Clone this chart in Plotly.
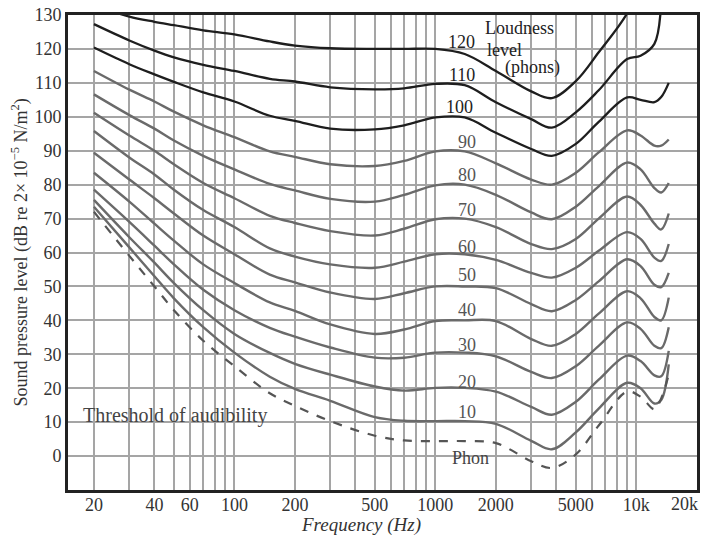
import math
import plotly.graph_objects as go

# ---------------- data ----------------
FREQ = [20, 30, 40, 50, 70, 100, 150, 200, 300, 500, 700, 1000, 1400, 2000,
        3000, 3800, 5000, 6500, 9000, 10500, 12300, 13300, 14500]

PHON_120 = [133, 129.5, 128, 127, 125.5, 124.3, 122.2, 121, 120.2, 120, 120, 120, 118.5, 113.5,
            107.5, 105.5, 110.5, 119, 130.5, 140, None, None, None]
PHON_110 = [127.3, 122.5, 119.5, 117.5, 115.3, 113.5, 111.2, 110.4, 108.7, 108.1, 108.4, 109.7, 109.3, 104.3,
            99.3, 96.8, 101.3, 107.8, 117, 118, 121.5, 134, None]
PHON_100 = [120.4, 115.5, 112.5, 110.3, 107.2, 104.5, 100.3, 98.8, 96.5, 96.3, 97.5, 99.8, 99.8, 95.3,
            90.5, 88.5, 92, 98.5, 105.7, 105, 104.3, 105.8, 110]
PHON_90 = [113.5, 108, 104.5, 101.5, 97.5, 94, 89.8, 88.2, 86, 85.5, 87, 89.8, 89.8, 86.3,
           81.5, 80, 83.5, 89.5, 96, 94.5, 91.5, 91.5, 93.3]
PHON_80 = [106.6, 100.5, 96.5, 93, 88.5, 84.5, 80.2, 78.3, 75.8, 75, 77, 79.8, 80, 77,
           71.8, 69.8, 73.5, 79.5, 86.5, 84.5, 79, 77.7, 80.5]
PHON_70 = [101.2, 94.5, 90, 86, 80.5, 76, 70.8, 68.7, 66.3, 65, 67, 69.8, 70, 67.5,
           62.5, 61, 64, 70, 76.5, 74, 68.5, 66.8, 71.5]
PHON_60 = [95.8, 88, 83, 78.5, 72.5, 67.5, 61.2, 58.8, 56.5, 55.5, 57.3, 59.5, 59.5, 57.8,
           54, 52.6, 55.5, 60.5, 66, 64, 58.5, 57.5, 62.5]
PHON_50 = [89.4, 81.5, 76, 71.5, 65, 59.5, 53.5, 51.2, 48.2, 46.3, 48, 50, 50, 49.5,
           44.8, 42.7, 46, 51.5, 58, 56, 50.5, 49.8, 54]
PHON_40 = [83.5, 75, 68.5, 63.5, 56.5, 51, 45.3, 42.8, 38.8, 36, 37.3, 39.8, 40, 39.8,
           34.5, 32.5, 36, 42, 48.6, 46.5, 41, 40, 46.7]
PHON_30 = [78.5, 69, 62, 56.5, 49, 43, 37.8, 35.2, 32, 29, 29, 30.5, 30.5, 29.4,
           24.8, 23, 26.5, 32.5, 39.4, 37.5, 32.5, 31.8, 38]
PHON_20 = [75.5, 64.5, 57, 51, 43, 36, 30.4, 27.2, 24, 20.5, 19.3, 20.1, 20.1, 19,
           14.5, 12.2, 16, 22.5, 29.6, 28, 23.8, 23.5, 31]
PHON_10 = [73.5, 61.5, 53, 46.5, 38, 30.5, 23.4, 19.8, 16.3, 11.5, 10.4, 10.3, 10.3, 9.5,
           4.5, 2, 7, 14, 21.6, 20, 15.5, 16.5, 27]
THRESHOLD = [72, 59, 50, 43, 34, 26.5, 18.5, 14.8, 10.3, 6, 4.6, 4.4, 4.4, 3.8,
             -1.5, -3.5, 0.5, 9, 19, 17.5, 13.8, 17, 24]

CURVE_NAMES = ["120", "110", "100", "90", "80", "70", "60", "50", "40", "30", "20", "10"]
CURVES = [PHON_120, PHON_110, PHON_100, PHON_90, PHON_80, PHON_70, PHON_60,
          PHON_50, PHON_40, PHON_30, PHON_20, PHON_10]

# curve-label positions (frequency, dB)
LABEL_FREQ = [1350, 1350, 1320, 1430, 1430, 1440, 1430, 1430, 1430, 1430, 1430, 1430]
LABEL_DB = [122.0, 112.3, 102.9, 92.6, 82.8, 72.5, 61.6, 53.4, 43.0, 32.7, 21.8, 13.0]

GRID_FREQ = [20, 30, 40, 50, 60, 70, 80, 90, 100, 200, 300, 400, 500, 600, 700, 800, 900,
             1000, 2000, 3000, 4000, 5000, 6000, 7000, 8000, 9000, 10000, 20000]
X_TICK_LABELS = {20: "20", 40: "40", 60: "60", 100: "100", 200: "200", 500: "500",
                 1000: "1000", 2000: "2000", 5000: "5000", 10000: "10k"}
LAST_X_LABEL = "20k"
Y_TICKS = list(range(0, 131, 10))

FONT = "Liberation Serif"
DARK = "#1e1e1e"
GREY = "#6a6a6a"

fig = go.Figure()

for name, vals in zip(CURVE_NAMES, CURVES):
    dark = name in ("120", "110", "100")
    fig.add_trace(go.Scatter(
        x=FREQ, y=vals, mode="lines", name=name + " phon",
        line=dict(color=DARK if dark else GREY, width=2.3 if dark else 2.4,
                  shape="spline", smoothing=1.0),
        hoverinfo="skip", showlegend=False))

fig.add_trace(go.Scatter(
    x=FREQ, y=THRESHOLD, mode="lines", name="Threshold",
    line=dict(color="#555555", width=2.2, dash="dash", shape="spline", smoothing=1.0),
    hoverinfo="skip", showlegend=False))

annotations = []
for name, f, db in zip(CURVE_NAMES, LABEL_FREQ, LABEL_DB):
    dark = name in ("120", "110", "100")
    annotations.append(dict(x=math.log10(f), y=db, xref="x", yref="y", text=name,
                            showarrow=False, xanchor="center", yanchor="middle",
                            font=dict(family=FONT, size=18, color="#222" if dark else "#555")))

annotations += [
    dict(x=math.log10(1500), y=-0.6, xref="x", yref="y", text="Phon", showarrow=False,
         xanchor="center", yanchor="middle", font=dict(family=FONT, size=18, color="#444")),
    dict(x=math.log10(1720), y=126.2, xref="x", yref="y", text="Loudness", showarrow=False,
         xanchor="left", yanchor="middle", font=dict(family=FONT, size=18, color="#222")),
    dict(x=math.log10(1760), y=119.7, xref="x", yref="y", text="level", showarrow=False,
         xanchor="left", yanchor="middle", font=dict(family=FONT, size=18, color="#222")),
    dict(x=math.log10(2160), y=114.4, xref="x", yref="y", text="(phons)", showarrow=False,
         xanchor="left", yanchor="middle", font=dict(family=FONT, size=18, color="#222")),
    dict(x=math.log10(50.5), y=12.1, xref="x", yref="y", text="Threshold of audibility",
         showarrow=False, xanchor="center", yanchor="middle",
         font=dict(family=FONT, size=20, color="#444")),
    dict(x=0.466, y=-0.074, xref="paper", yref="paper", text="<i>Frequency (Hz)</i>",
         showarrow=False, xanchor="center", yanchor="middle",
         font=dict(family=FONT, size=19, color="#333")),
    dict(x=-0.0763, y=0.5, xref="paper", yref="paper", textangle=-90,
         text="Sound pressure level (dB re 2× 10<sup>−5</sup> N/m<sup>2</sup>)",
         showarrow=False, xanchor="center", yanchor="middle",
         font=dict(family=FONT, size=18, color="#333")),
    # last frequency label sits at the right border; anchored right so it stays in view
    dict(x=1.004, y=-0.0295, xref="paper", yref="paper", text=LAST_X_LABEL,
         showarrow=False, xanchor="right", yanchor="middle",
         font=dict(family=FONT, size=18, color="#333")),
]

# the page body adds an 8 px offset, so the figure is 8 px smaller and margins compensate
fig.update_layout(
    width=701, height=528,
    margin=dict(l=60, r=12, t=7, b=46, autoexpand=False),
    paper_bgcolor="white", plot_bgcolor="white",
    annotations=annotations,
    xaxis=dict(type="log", range=[1.172, 4.302], automargin=False,
               tickvals=GRID_FREQ, ticktext=[X_TICK_LABELS.get(v, "") for v in GRID_FREQ],
               ticklabeloverflow="allow", ticklabelstandoff=-4,
               showgrid=True, gridcolor="#a5a5a5", gridwidth=2,
               showline=True, linecolor="#222", linewidth=3, mirror=True,
               ticks="", zeroline=False,
               tickfont=dict(family=FONT, size=18, color="#333")),
    yaxis=dict(range=[-10, 130], automargin=False,
               tickvals=Y_TICKS, ticktext=[str(v) for v in Y_TICKS],
               ticklabeloverflow="allow",
               showgrid=True, gridcolor="#a5a5a5", gridwidth=2,
               showline=True, linecolor="#222", linewidth=3, mirror=True,
               ticks="", zeroline=False,
               tickfont=dict(family=FONT, size=18, color="#333")),
)

fig.write_html("out.html")
